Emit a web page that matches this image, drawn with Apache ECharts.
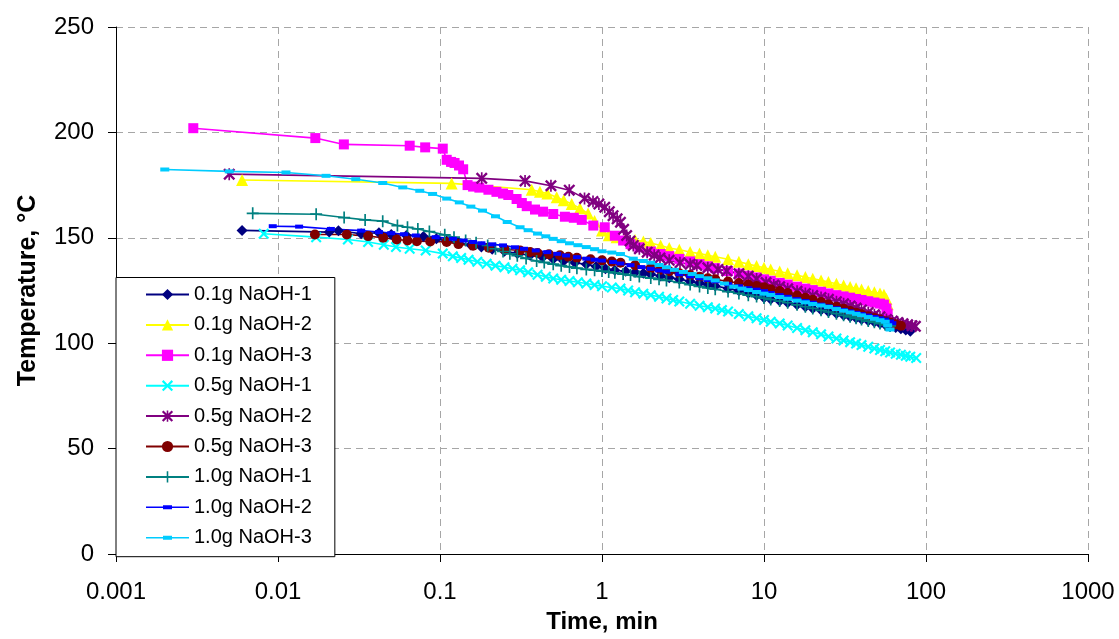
<!DOCTYPE html>
<html>
<head>
<meta charset="utf-8">
<script src="https://cdn.jsdelivr.net/npm/echarts@6/dist/echarts.min.js"></script>
<style>html,body{margin:0;padding:0;background:#fff}#c{width:1119px;height:639px}</style>
</head>
<body>
<div id="c"></div>
<script>
// ---- data: [time (min), temperature (°C)] ----
const seriesNames = ['0.1g NaOH-1','0.1g NaOH-2','0.1g NaOH-3','0.5g NaOH-1','0.5g NaOH-2','0.5g NaOH-3','1.0g NaOH-1','1.0g NaOH-2','1.0g NaOH-3'];
const xTickLabels = ['0.001','0.01','0.1','1','10','100','1000'];
const yTicks = [0, 50, 100, 150, 200, 250];

const d01g1 = [[0.006,153.5],[0.0207,152.7],[0.0236,153.4],[0.0326,151.9],[0.042,152.4],[0.05,151.6],[0.062,151.1],[0.079,150.6],[0.095,149.5],[0.11,148.5],[0.13,147.6],[0.155,146.6],[0.18,145.6],[0.21,144.6],[0.25,143.6],[0.3,142.6],[0.36,141.7],[0.43,140.8],[0.5,140],[0.58,139],[0.68,138.2],[0.8,137.4],[0.92,136.4],[1.05,135.3],[1.2,134.6],[1.4,134.1],[1.6,133.6],[1.8,133.2],[2,132.7],[2.3,131.9],[2.6,131.1],[3,130.3],[3.5,129.4],[4,128.5],[4.5,127.8],[5,127.1],[6,126],[7,124.9],[8,123.8],[9,122.7],[10,121.6],[11,120.9],[12.5,120],[14,119.2],[16,118.2],[18,117.3],[20,116.5],[22.5,115.7],[25,114.9],[28,114.1],[31,113.3],[34,112.6],[37,112],[40,111.4],[44,110.7],[48,110],[52,109.4],[56,108.8],[60,108.2],[65,107.5],[70,106.9],[75,106.3],[80,105.7]];
const d01g2 = [[0.006,177.4],[0.118,175.8],[0.368,172.8],[0.414,171.8],[0.46,171],[0.525,169.2],[0.58,167.8],[0.65,166],[0.73,164],[0.82,161.5],[0.9,158],[1,153.5],[1.1,151.2],[1.23,150.3],[1.4,149.7],[1.6,149],[1.8,148.2],[2,147.5],[2.3,146.3],[2.6,145.2],[3,144.3],[3.5,143.3],[4,142.5],[4.5,141.7],[5,141],[6,139.8],[7,138.6],[8,137.5],[9,136.6],[10,135.8],[11,135],[12.5,134],[14,133.2],[16,132.2],[18,131.4],[20,130.6],[22.5,129.8],[25,129],[28,128.2],[31,127.4],[34,126.7],[37,126.1],[40,125.5],[44,124.8],[48,124.2],[52,123.6],[55,123],[57,121],[58,118.5]];
const d01g3 = [[0.003,202],[0.017,197.3],[0.0255,194.3],[0.065,193.7],[0.081,192.9],[0.104,192.3],[0.11,187],[0.117,186],[0.123,185.5],[0.131,184.3],[0.139,182.5],[0.148,175],[0.16,174.3],[0.175,173.8],[0.199,172.8],[0.223,171.8],[0.245,171],[0.264,170.3],[0.297,168.4],[0.32,166.5],[0.343,165],[0.386,163.4],[0.433,162.4],[0.5,161.3],[0.59,160],[0.67,159.5],[0.75,158.5],[0.884,155.8],[1.04,155],[1.2,151],[1.35,148.7],[1.5,147],[1.7,145.5],[2,143.5],[2.3,142.3],[2.6,141.3],[3,140],[3.5,138.8],[4,137.5],[4.5,136.5],[5,135.6],[6,134.2],[7,133],[8,132],[9,131.2],[10,130.3],[11,129.6],[12.5,128.6],[14,127.8],[16,126.8],[18,125.9],[20,125.2],[22.5,124.4],[25,123.6],[28,122.8],[31,122.2],[34,121.6],[37,121],[40,120.5],[44,119.9],[48,119.3],[52,118.8],[55,118.3],[57,116.5],[58,114]];
const d05g1 = [[0.00816,151.9],[0.0172,150.3],[0.027,149.2],[0.036,148],[0.045,146.7],[0.0535,145.6],[0.065,144.8],[0.0816,144],[0.104,142.5],[0.12,141.2],[0.135,140.4],[0.15,139.6],[0.17,138.6],[0.194,137.7],[0.22,136.8],[0.25,136],[0.28,135.3],[0.312,134.6],[0.35,133.6],[0.4,132.5],[0.45,131.5],[0.5,130.7],[0.56,130.1],[0.63,129.5],[0.71,128.9],[0.8,128.3],[0.9,127.6],[1,127],[1.15,126.4],[1.3,125.9],[1.45,125],[1.6,124.2],[1.8,123.5],[2,122.8],[2.25,122],[2.5,121.2],[2.75,120.5],[3,119.8],[3.5,118.7],[4,117.8],[4.5,117.1],[5,116.5],[5.5,115.7],[6,115],[7,113.8],[8,112.8],[9,111.8],[10,111],[11,110.2],[12.5,109.4],[14,108.4],[16,107.2],[18,106.2],[20,105.2],[22.5,104.2],[25,103.2],[28,102.2],[31,101.3],[34,100.5],[37,99.8],[40,99.1],[44,98.3],[48,97.5],[52,96.8],[56,96.2],[60,95.6],[65,95],[70,94.5],[75,94],[80,93.6],[87,93]];
const d05g2 = [[0.005,180.2],[0.181,178.2],[0.335,177],[0.484,174.7],[0.628,172.6],[0.78,168.7],[0.88,167.2],[0.957,166],[1.04,164.5],[1.11,162.4],[1.17,160.5],[1.24,159],[1.3,157.4],[1.36,154],[1.42,151.1],[1.49,148.5],[1.56,146.4],[1.7,144.8],[1.9,143.2],[2.1,141.7],[2.28,140.4],[2.6,139.3],[3.03,138.2],[3.5,137.4],[3.85,136.9],[4.5,135.8],[5.2,135],[5.89,134.3],[7,133],[8,131.8],[9,130.5],[10.3,128.8],[11.5,127.6],[12.5,126.8],[14,125.8],[16,124.6],[18,123.6],[20,122.6],[22.5,121.7],[25,120.8],[28,119.7],[31,118.7],[34,117.7],[37,116.7],[40,115.8],[44,114.6],[48,113.5],[52,112.5],[57,111.3],[62,110.5],[67,109.8],[72,109.2],[77,108.7],[82,108.3],[86,108]];
const d05g3 = [[0.0169,151.6],[0.0266,151.6],[0.036,150.8],[0.0446,150],[0.054,149.2],[0.063,148.7],[0.072,148.4],[0.087,148.3],[0.11,148],[0.13,147],[0.16,146.2],[0.2,145.3],[0.25,144.6],[0.312,144],[0.36,143.3],[0.4,142.8],[0.47,142.2],[0.55,141.7],[0.62,141],[0.7,140.5],[0.85,139.8],[1,139.3],[1.15,138.7],[1.3,138.2],[1.6,137],[2,135.6],[2.3,134.9],[2.6,134.1],[3,133.2],[3.5,132.3],[4,131.5],[4.5,130.8],[5,130.3],[6,129.3],[7,128.5],[8,127.8],[9,127.1],[10,126.5],[11,125.6],[12.5,124.8],[14,123.8],[16,122.6],[18,121.6],[20,120.6],[22.5,119.5],[25,118.4],[28,117.3],[31,116.3],[34,115.3],[37,114.5],[40,113.7],[44,112.8],[48,111.9],[52,111.2],[56,110.4],[60,109.8],[65,109],[70,108.3]];
const d10g1 = [[0.00698,161.6],[0.0172,161.2],[0.0256,159.6],[0.0345,158.5],[0.0443,157.9],[0.0546,155.8],[0.063,155],[0.073,154.2],[0.086,153],[0.107,151.4],[0.122,150.3],[0.144,148.7],[0.167,147.6],[0.197,146.4],[0.22,144.8],[0.245,143.5],[0.27,142.4],[0.3,141.5],[0.34,140.2],[0.395,139],[0.44,138.3],[0.5,137.5],[0.56,136.8],[0.63,136.2],[0.7,135.6],[0.8,135],[0.9,134.6],[1,134.2],[1.1,133.8],[1.2,133.4],[1.35,132.8],[1.5,132.3],[1.7,131.6],[2,130.9],[2.25,130.3],[2.5,129.8],[3,128.8],[3.5,127.8],[4,126.9],[4.5,126.2],[5,125.6],[6,124.5],[7,123.6],[8,122.8],[9,122.1],[10,121.4],[11,120.7],[12.5,120],[14,119.2],[16,118.2],[18,117.3],[20,116.5],[22.5,115.6],[25,114.8],[28,114],[31,113.2],[34,112.5],[37,111.8],[40,111.2],[44,110.5],[48,109.9],[52,109.3],[56,108.7],[60,108.2]];
const d10g2 = [[0.00928,155.5],[0.0135,155.3],[0.0212,154.2],[0.0326,153.4],[0.042,152.7],[0.05,152.2],[0.06,151.7],[0.071,151.1],[0.094,150.3],[0.12,149.5],[0.14,148.7],[0.16,148],[0.18,147.4],[0.21,146.9],[0.245,146.4],[0.29,145.5],[0.33,144.8],[0.39,144],[0.46,143.2],[0.53,142.4],[0.6,141.6],[0.7,140.8],[0.8,140.1],[0.9,139.6],[1,139.2],[1.17,138.5],[1.3,137.8],[1.5,137],[1.75,136.1],[2,135.3],[2.25,134.5],[2.5,133.9],[3,132.7],[3.5,131.7],[4,130.8],[4.5,130],[5,129.3],[6,128],[7,127],[8,126.1],[9,125.4],[10,124.7],[11,123.8],[12.5,122.8],[14,122],[16,120.9],[18,120],[20,119.2],[22.5,118.3],[25,117.5],[28,116.6],[31,115.8],[34,115.1],[37,114.4],[40,113.8],[44,113.1],[48,112.4],[52,111.8],[56,111.2],[60,110.3],[62,109.5]];
const d10g3 = [[0.002,182.4],[0.005,181.5],[0.0112,181],[0.0198,179.4],[0.0302,177.8],[0.0443,176],[0.0589,173.9],[0.075,172.3],[0.09,170.8],[0.11,168.6],[0.1316,166.8],[0.155,164.8],[0.183,162.9],[0.22,160.2],[0.26,157.5],[0.312,155],[0.35,153.6],[0.4,152],[0.45,150.7],[0.5,149.5],[0.56,148.4],[0.63,147.4],[0.71,146.5],[0.8,145.6],[0.9,144.6],[1,143.6],[1.15,143],[1.3,142.3],[1.56,140.1],[1.8,139],[2,138.2],[2.25,137.1],[2.5,136],[2.8,134.8],[3.18,133.8],[3.6,132.8],[4,131.8],[4.5,130.8],[5,129.8],[5.7,128.3],[6.5,126.8],[7.3,125.9],[8,125.2],[9,124.3],[10,123.5],[11,122.9],[12.5,121.9],[14,121.1],[16,120.2],[18,119.4],[20,118.6],[22.5,117.9],[25,117.2],[28,116.2],[31,115.4],[34,114.6],[37,113.9],[40,113.2],[44,112.4],[48,111.6],[52,110.9],[56,110.2],[58,108.5],[60,106.5]];

const allData = [d01g1, d01g2, d01g3, d05g1, d05g2, d05g3, d10g1, d10g2, d10g3];

// ---- styles ----
const colors = ['#000080','#FFFF00','#FF00FF','#00FFFF','#800080','#800000','#008080','#0000FF','#00CCFF'];
const X_PATH = 'path://M0,1.4L1.4,0L5,3.6L8.6,0L10,1.4L6.4,5L10,8.6L8.6,10L5,6.4L1.4,10L0,8.6L3.6,5Z';
const STAR_PATH = 'path://M0,1.4L1.4,0L5,3.6L8.6,0L10,1.4L6.4,5L10,8.6L8.6,10L5,6.4L1.4,10L0,8.6L3.6,5Z M4.3,0H5.7V10H4.3Z';
const PLUS_PATH = 'path://M4.3,0H5.7V4.3H10V5.7H5.7V10H4.3V5.7H0V4.3H4.3Z';
const symbols = ['diamond','triangle','rect',X_PATH,STAR_PATH,'circle',PLUS_PATH,'rect','rect'];
const symbolSizes = [11,12,10,11,12,10,12,[8,4],[9,4]];
// legend icon for the dash-marker series: thin line with a short bar in its middle
const DASH_LEGEND_ICON = 'path://M0,6.2H43V7.8H0Z M17,5H26V9H17Z';
const legendIcons = [null,null,null,null,null,null,null,DASH_LEGEND_ICON,DASH_LEGEND_ICON];

const FONT = 'Liberation Sans, Arial, Helvetica, sans-serif';

const chart = echarts.init(document.getElementById('c'), null, {renderer:'canvas'});

const series = seriesNames.map((name, i) => ({
  name: name,
  type: 'line',
  data: allData[i],
  symbol: symbols[i],
  symbolSize: symbolSizes[i],
  showAllSymbol: true,
  smooth: false,
  lineStyle: {color: colors[i], width: 1.6},
  itemStyle: {color: colors[i], borderWidth: 0},
  emphasis: {disabled: true},
  animation: false
}));

const legendData = seriesNames.map((name, i) => legendIcons[i] ? {name: name, icon: legendIcons[i]} : {name: name});

chart.setOption({
  animation: false,
  backgroundColor: '#ffffff',
  grid: {left: 116, right: 31, top: 27, bottom: 82, containLabel: false},
  xAxis: {
    type: 'log', logBase: 10, min: 0.001, max: 1000,
    name: 'Time, min', nameLocation: 'middle', nameGap: 56,
    nameTextStyle: {fontFamily: FONT, fontSize: 24, fontWeight: 'bold', color: '#000'},
    axisLine: {show: true, onZero: false, lineStyle: {color: '#000', width: 1}},
    axisTick: {show: true, inside: false, length: 8, lineStyle: {color: '#000'}},
    axisLabel: {
      fontFamily: FONT, fontSize: 24, color: '#000', margin: 26,
      formatter: v => xTickLabels[Math.round(Math.log10(v)) + 3]
    },
    splitLine: {show: true, lineStyle: {color: '#a6a6a6', type: [7, 5], width: 1}},
    minorTick: {show: false}, minorSplitLine: {show: false}
  },
  yAxis: {
    type: 'value', min: yTicks[0], max: yTicks[yTicks.length - 1], interval: 50,
    name: 'Temperature, °C', nameLocation: 'middle', nameGap: 75, nameRotate: 90,
    nameTextStyle: {fontFamily: FONT, fontSize: 25, fontWeight: 'bold', color: '#000'},
    axisLine: {show: true, lineStyle: {color: '#000', width: 1}},
    axisTick: {show: true, inside: false, length: 8, lineStyle: {color: '#000'}},
    axisLabel: {fontFamily: FONT, fontSize: 24, color: '#000', margin: 22},
    splitLine: {show: true, lineStyle: {color: '#a6a6a6', type: [7, 5], width: 1}}
  },
  legend: {
    show: true, orient: 'vertical', left: 116, top: 277.5,
    backgroundColor: '#ffffff', borderColor: '#000', borderWidth: 1,
    padding: [7, 23, 9, 29], itemGap: 10.4, itemWidth: 43, itemHeight: 14,
    textStyle: {fontFamily: FONT, fontSize: 20, color: '#000'},
    selectedMode: false,
    data: legendData
  },
  series: series
});
</script>
</body>
</html>
